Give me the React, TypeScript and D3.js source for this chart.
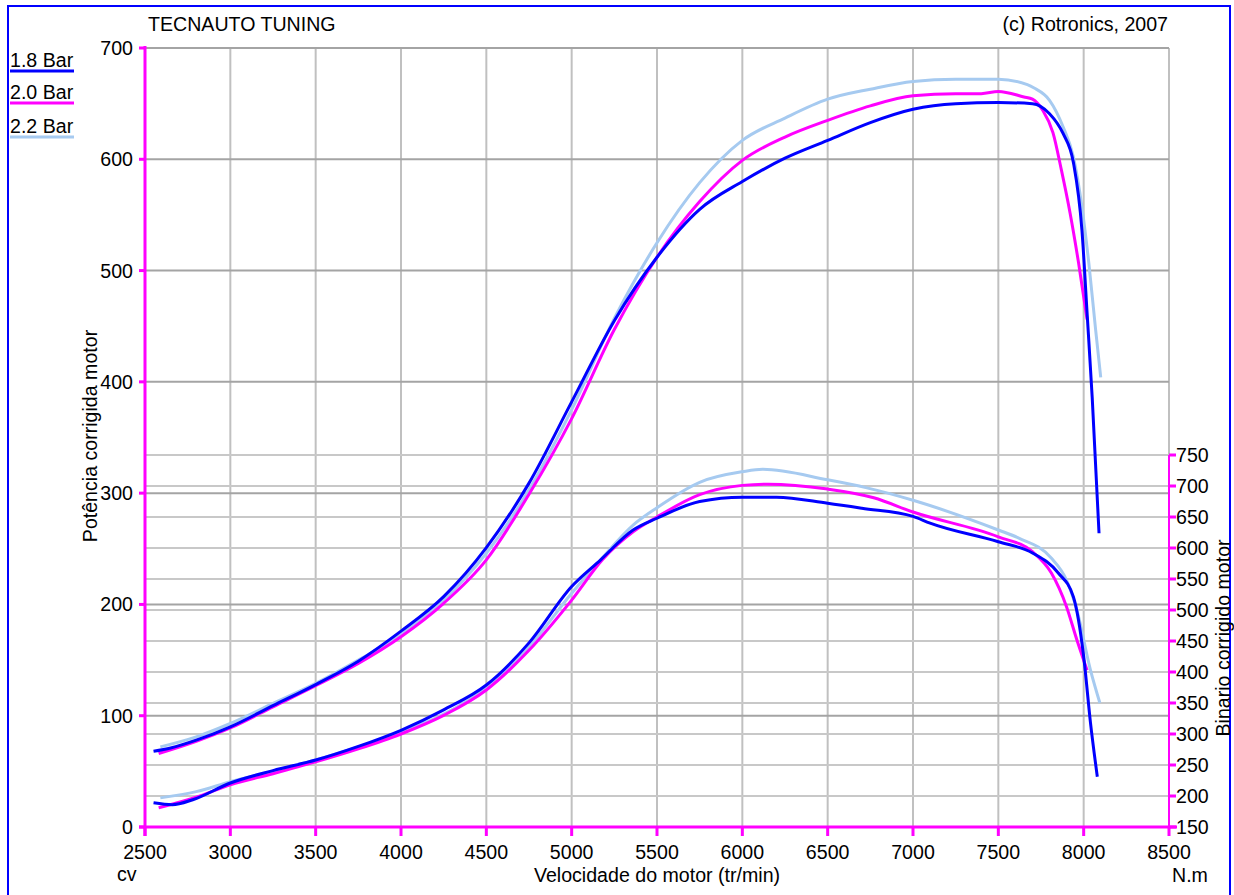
import * as d3 from "d3";

// rpm / value pairs
const rpmTicks = [2500, 3000, 3500, 4000, 4500, 5000, 5500, 6000, 6500, 7000, 7500, 8000, 8500];
const powerTicks = [0, 100, 200, 300, 400, 500, 600, 700];
const torqueTicks = [150, 200, 250, 300, 350, 400, 450, 500, 550, 600, 650, 700, 750];

const power18: [number, number][] = [
  [2550, 68], [2650, 71], [2800, 78], [3000, 90], [3250, 109], [3500, 128], [3750, 149],
  [4000, 176], [4250, 207], [4500, 251], [4750, 309], [5000, 382], [5250, 455], [5500, 512],
  [5750, 555], [6000, 580], [6250, 601], [6500, 617], [6750, 633], [7000, 645], [7250, 650],
  [7500, 651], [7700, 650], [7800, 641], [7880, 623], [7940, 597], [7990, 536], [8020, 462],
  [8050, 386], [8090, 264],
];
const power20: [number, number][] = [
  [2580, 66], [2800, 77], [3000, 89], [3250, 108], [3500, 127], [3750, 147], [4000, 171],
  [4250, 201], [4500, 240], [4750, 299], [5000, 367], [5250, 447], [5500, 512], [5750, 562],
  [6000, 599], [6250, 620], [6500, 635], [6750, 648], [7000, 657], [7250, 659], [7400, 659],
  [7500, 661], [7650, 656], [7700, 654], [7760, 644], [7820, 624], [7870, 590], [7920, 552],
  [7970, 507], [8020, 456],
];
const power22: [number, number][] = [
  [2590, 72], [2800, 81], [3000, 93], [3250, 111], [3500, 129], [3750, 150], [4000, 173],
  [4250, 204], [4500, 246], [4750, 303], [5000, 375], [5250, 457], [5500, 525], [5750, 579],
  [6000, 617], [6250, 637], [6500, 654], [6750, 663], [7000, 670], [7250, 672], [7500, 672],
  [7670, 667], [7710, 664], [7800, 653], [7880, 629], [7940, 602], [7990, 557], [8030, 507],
  [8070, 447], [8100, 404],
];

const torque18: [number, number][] = [
  [2550, 189], [2660, 186], [2780, 194], [3000, 221], [3250, 241], [3500, 258], [3750, 280],
  [4000, 306], [4250, 339], [4500, 379], [4750, 447], [5000, 538], [5170, 581], [5360, 629],
  [5500, 648], [5750, 675], [6000, 682], [6200, 682], [6500, 672], [6700, 664], [7000, 651],
  [7100, 640], [7500, 610], [7700, 592], [7850, 560], [7940, 521], [8000, 425], [8040, 318],
  [8080, 231],
];
const torque20: [number, number][] = [
  [2580, 181], [2800, 198], [3000, 218], [3250, 236], [3500, 255], [3750, 276], [4000, 300],
  [4250, 330], [4500, 371], [4750, 435], [5000, 516], [5180, 581], [5360, 626], [5500, 650],
  [5750, 686], [6000, 701], [6150, 703], [6500, 695], [6770, 681], [7000, 658], [7500, 618],
  [7700, 594], [7810, 560], [7900, 505], [7960, 452], [8020, 403],
];
const torque22: [number, number][] = [
  [2590, 197], [2800, 207], [3000, 223], [3250, 240], [3500, 258], [3750, 279], [4000, 302],
  [4250, 332], [4500, 374], [4750, 440], [5000, 527], [5170, 581], [5360, 637], [5500, 665],
  [5750, 706], [6000, 723], [6120, 727], [6500, 710], [6730, 697], [7000, 677], [7500, 629],
  [7620, 616], [7810, 584], [7900, 548], [7960, 500], [8040, 403], [8095, 350],
];

const seriesNames = ["1.8 Bar", "2.0 Bar", "2.2 Bar"];
const seriesColors = ["#0000ff", "#ff00ff", "#a6caf0"];

const FONT = "'Liberation Sans', Arial, sans-serif";
const MAGENTA = "#ff00ff";
const FS = 19.6;

export default function App() {
  const W = 1234;
  const H = 895;
  const left = 145;
  const right = 1169;
  const top = 48;
  const bottom = 827;

  const x = d3.scaleLinear().domain([2500, 8500]).range([left, right]);
  const yP = d3.scaleLinear().domain([0, 700]).range([bottom, top]);
  const yT = d3.scaleLinear().domain([150, 750]).range([bottom, 455]);

  const linePower = d3
    .line<[number, number]>()
    .x((d) => x(d[0]))
    .y((d) => yP(d[1]))
    .curve(d3.curveMonotoneX);
  const lineTorque = d3
    .line<[number, number]>()
    .x((d) => x(d[0]))
    .y((d) => yT(d[1]))
    .curve(d3.curveMonotoneX);

  const powers = [power18, power20, power22];
  const torques = [torque18, torque20, torque22];
  // draw order: light blue under, then magenta, blue on top
  const order = [2, 1, 0];

  return (
    <div style={{ position: "absolute", left: 0, top: 0 }}>
      <svg width={W} height={H} style={{ display: "block", background: "#fff" }} fontFamily={FONT}>
        {/* frame */}
        <rect x={8} y={6} width={1222} height={H} fill="none" stroke="#0000ff" strokeWidth={2} />

        {/* vertical grid */}
        {rpmTicks.map((t) => (
          <line key={"gx" + t} x1={x(t)} x2={x(t)} y1={top} y2={bottom} stroke="#c0c0c0" strokeWidth={2} />
        ))}
        {/* torque grid */}
        {torqueTicks.map((t) => (
          <line key={"gt" + t} x1={left} x2={right} y1={yT(t)} y2={yT(t)} stroke="#c8c8c8" strokeWidth={2} />
        ))}
        {/* power grid */}
        {powerTicks.map((t) => (
          <line key={"gp" + t} x1={left} x2={right} y1={yP(t)} y2={yP(t)} stroke="#a4a4a4" strokeWidth={2} />
        ))}

        {/* curves */}
        {order.map((i) => (
          <g key={"s" + i} fill="none" stroke={seriesColors[i]} strokeWidth={3} strokeLinejoin="round">
            <path d={linePower(powers[i]) || ""} />
            <path d={lineTorque(torques[i]) || ""} />
          </g>
        ))}

        {/* left axis */}
        <line x1={left} x2={left} y1={top - 2} y2={bottom + 9} stroke={MAGENTA} strokeWidth={3} />
        {powerTicks.map((t) => (
          <g key={"lp" + t}>
            <line x1={left - 6} x2={left} y1={yP(t)} y2={yP(t)} stroke={MAGENTA} strokeWidth={3} />
            <text x={133} y={yP(t)} dy="0.36em" textAnchor="end" fontSize={FS} fill="#000">
              {t}
            </text>
          </g>
        ))}

        {/* bottom axis */}
        <line x1={left - 6} x2={right + 8} y1={bottom} y2={bottom} stroke={MAGENTA} strokeWidth={3} />
        {rpmTicks.map((t) => (
          <g key={"lx" + t}>
            <line x1={x(t)} x2={x(t)} y1={bottom} y2={bottom + 9} stroke={MAGENTA} strokeWidth={3} />
            <text x={x(t)} y={859} textAnchor="middle" fontSize={FS} fill="#000">
              {t}
            </text>
          </g>
        ))}

        {/* right axis */}
        <line x1={right} x2={right} y1={yT(750)} y2={bottom + 9} stroke={MAGENTA} strokeWidth={2} />
        {torqueTicks.map((t) => (
          <g key={"lt" + t}>
            <line x1={right} x2={right + 7} y1={yT(t)} y2={yT(t)} stroke={MAGENTA} strokeWidth={3} />
            <text x={1176} y={yT(t)} dy="0.36em" fontSize={FS} fill="#000">
              {t}
            </text>
          </g>
        ))}

        {/* titles */}
        <text x={148} y={31} fontSize={FS} fill="#000">TECNAUTO TUNING</text>
        <text x={1168} y={31} fontSize={FS} textAnchor="end" fill="#000">(c) Rotronics, 2007</text>
        <text x={117} y={881} fontSize={FS} fill="#000">cv</text>
        <text x={657} y={882} fontSize={FS} textAnchor="middle" fill="#000">Velocidade do motor (tr/min)</text>
        <text x={1172} y={882} fontSize={FS} fill="#000">N.m</text>
        <text transform="translate(97,436) rotate(-90)" fontSize={FS} textAnchor="middle" fill="#000">
          Potência corrigida motor
        </text>
        <text transform="translate(1230,638) rotate(-90)" fontSize={FS} textAnchor="middle" fill="#000">
          Binario corrigido motor
        </text>

        {/* legend */}
        {seriesNames.map((n, i) => {
          const ly = [71, 103, 137][i];
          return (
            <g key={"lg" + i}>
              <text x={10} y={ly - 4} fontSize={FS} fill="#000">{n}</text>
              <line x1={10} x2={74} y1={ly} y2={ly} stroke={seriesColors[i]} strokeWidth={3} />
            </g>
          );
        })}
      </svg>
    </div>
  );
}
